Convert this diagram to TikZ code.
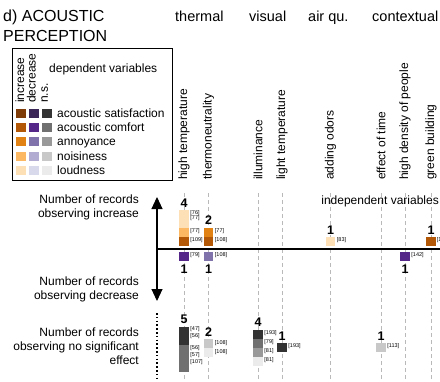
\documentclass[tikz,border=0pt]{standalone}
\usepackage{fontspec}
\setmainfont{Liberation Sans}
\usetikzlibrary{arrows.meta}
\definecolor{incSat}{HTML}{7F3B08}
\definecolor{incCom}{HTML}{B35806}
\definecolor{incAnn}{HTML}{E08214}
\definecolor{incNoi}{HTML}{FDB863}
\definecolor{incLou}{HTML}{FEE0B6}
\definecolor{decSat}{HTML}{3A2758}
\definecolor{decCom}{HTML}{542788}
\definecolor{decAnn}{HTML}{8073AC}
\definecolor{decNoi}{HTML}{B2ABD2}
\definecolor{decLou}{HTML}{D8DAEB}
\definecolor{nsSat}{HTML}{333333}
\definecolor{nsCom}{HTML}{707070}
\definecolor{nsAnn}{HTML}{999999}
\definecolor{nsNoi}{HTML}{C8C8C8}
\definecolor{nsLou}{HTML}{EBEBEB}
\newcommand{\barseg}[5]{\node[seg, fill=#5, minimum height=#4*9pt] (#1) at (#2, {#3+#4*4.5}) {};}
\tikzset{
  seg/.style={draw=none, minimum width=9.5pt, inner sep=0pt, outer sep=0pt},
  swatch/.style={draw=none, minimum width=10pt, minimum height=9pt, inner sep=0pt},
  reflab/.style={font=\fontsize{5.5}{5.2}\selectfont, inner sep=0pt, anchor=north west, align=left},
  cnt/.style={font=\fontsize{12.5}{12.5}\selectfont\bfseries, inner sep=0pt},
  ivar/.style={rotate=90, anchor=west, inner sep=0pt, font=\fontsize{12}{12}\selectfont},
  lrot/.style={rotate=90, anchor=base west, inner sep=0pt, font=\fontsize{12}{12}\selectfont},
  head/.style={anchor=base west, inner sep=0pt, font=\fontsize{14.5}{14.5}\selectfont},
  ttl/.style={anchor=base west, inner sep=0pt, font=\fontsize{16}{16}\selectfont},
  side/.style={anchor=east, align=right, inner sep=0pt, font=\fontsize{12}{14}\selectfont},
  leg/.style={anchor=base west, inner sep=0pt, font=\fontsize{12}{12}\selectfont},
  gridline/.style={gray!55, line width=0.6pt, dash pattern=on 4pt off 3pt},
}
\begin{document}
\begin{tikzpicture}[x=1pt,y=-1pt]
\useasboundingbox (0,0) rectangle (440,381);
\begin{scope}
\clip (0,0) rectangle (440,381);
% titles
\node[ttl] (t1) at (3,21.7) {d) ACOUSTIC};
\node[ttl] (t2) at (3,41.7) {PERCEPTION};
\node[head] (hth) at (175,21.7) {thermal};
\node[head] (hvi) at (249,21.7) {visual};
\node[head] (hai) at (308,21.7) {air qu.};
\node[head] (hco) at (372,21.7) {contextual};
% legend
\draw[line width=0.9pt] (12,48) rectangle (172,180);
\node[lrot] (lin) at (24,103) {increase};
\node[lrot] (lde) at (35.5,103) {decrease};
\node[lrot] (lns) at (48,103) {n.s.};
\node[leg] (ldv) at (49,72) {dependent variables};
\foreach \yy/\nm/\txt in {113/Sat/acoustic satisfaction,127/Com/acoustic comfort,141.5/Ann/annoyance,156/Noi/noisiness,170/Lou/loudness}{
  \node[swatch, fill=inc\nm] (si\nm) at (21,\yy) {};
  \node[swatch, fill=dec\nm] (sd\nm) at (34,\yy) {};
  \node[swatch, fill=ns\nm] (sn\nm) at (46.5,\yy) {};
  \node[leg] (lt\nm) at (57,\yy+4.3) {\txt};
}
% independent variable labels
\node[ivar] (v1) at (184,180) {high temperature};
\node[ivar] (v2) at (208.5,180) {thermoneutrality};
\node[ivar] (v3) at (258,180) {illuminance};
\node[ivar] (v4) at (282,180) {light temperature};
\node[ivar] (v5) at (330.5,180) {adding odors};
\node[ivar] (v6) at (381,180) {effect of time};
\node[ivar] (v7) at (405,180) {high density of people};
\node[ivar] (v8) at (431,180) {green building};
% grid lines
\foreach \xx/\nm in {184/1,208.5/2,258/3,282/4,330.5/5,381/6,405/7,431/8}{
  \coordinate (gt\nm) at (\xx,193);
  \coordinate (gb\nm) at (\xx,381);
  \draw[gridline] (gt\nm) -- (gb\nm);
}
% side labels
\node[side] (s1) at (139,207.5) {Number of records\\observing increase};
\node[side] (s2) at (139,289) {Number of records\\observing decrease};
\node[side] (s3) at (139,346.5) {Number of records\\observing no significant\\effect};
\node[anchor=east, inner sep=0pt, font=\fontsize{12}{12}\selectfont] (iv) at (439,201) {independent variables};
% axes
\coordinate (orig) at (157,249);
\coordinate (hend) at (440,249);
\coordinate (uptip) at (157,197);
\coordinate (dntip) at (157,301);
\coordinate (dtop) at (157,313);
\coordinate (dbot) at (157,381);
\draw[line width=1.4pt] (orig) -- (hend);
\draw[line width=1.1pt, {Triangle[width=11pt,length=12pt]}-{Triangle[width=11pt,length=12pt]}] (uptip) -- (dntip);
\draw[line width=1.6pt, dash pattern=on 1.6pt off 2.2pt] (dtop) -- (dbot);
% increase bars
\barseg{a1}{184}{210}{2}{incLou}
\barseg{a2}{184}{228}{1}{incNoi}
\barseg{a3}{184}{237}{1}{incCom}
\node[reflab] (ra1) at ([xshift=1.5pt]a1.north east) {[76]\\{}[77]};
\node[reflab] (ra2) at ([xshift=1.5pt]a2.north east) {[77]};
\node[reflab] (ra3) at ([xshift=1.5pt]a3.north east) {[109]};
\node[cnt] (ca) at (184,203) {4};
\barseg{b1}{208.5}{228}{1}{incAnn}
\barseg{b2}{208.5}{237}{1}{incCom}
\node[reflab] (rb1) at ([xshift=1.5pt]b1.north east) {[77]};
\node[reflab] (rb2) at ([xshift=1.5pt]b2.north east) {[108]};
\node[cnt] (cb) at (208.5,220) {2};
\barseg{c1}{330.5}{237}{1}{incLou}
\node[reflab] (rc1) at ([xshift=1.5pt]c1.north east) {[83]};
\node[cnt] (cc) at (330.5,230) {1};
\barseg{d1}{431}{237}{1}{incCom}
\node[reflab] (rd1) at ([xshift=1pt]d1.north east) {[1};
\node[cnt] (cd) at (431,230) {1};
% decrease bars
\barseg{e1}{184}{252}{1}{decCom}
\node[reflab] (re1) at ([xshift=1.5pt]e1.north east) {[79]};
\node[cnt] (ce) at (184,269.5) {1};
\barseg{f1}{208.5}{252}{1}{decAnn}
\node[reflab] (rf1) at ([xshift=1.5pt]f1.north east) {[108]};
\node[cnt] (cf) at (208.5,269.5) {1};
\barseg{g1}{405}{252}{1}{decCom}
\node[reflab] (rg1) at ([xshift=1.5pt]g1.north east) {[142]};
\node[cnt] (cg) at (405,269.5) {1};
% no significant effect bars
\barseg{h1}{184}{327}{2}{nsSat}
\barseg{h2}{184}{345}{3}{nsCom}
\node[reflab, font=\fontsize{5.5}{7.5}\selectfont] (rh1) at ([xshift=1.5pt,yshift=1pt]h1.north east) {[47]\\{}[56]};
\node[reflab, font=\fontsize{5.5}{7}\selectfont] (rh2) at ([xshift=1.5pt]h2.north east) {[56]\\{}[57]\\{}[107]};
\node[cnt] (ch) at (184,319) {5};
\barseg{i1}{208.5}{339}{1}{nsNoi}
\barseg{i2}{208.5}{348}{1}{nsLou}
\node[reflab] (ri1) at ([xshift=1.5pt,yshift=-1pt]i1.north east) {[108]};
\node[reflab] (ri2) at ([xshift=1.5pt,yshift=-1pt]i2.north east) {[108]};
\node[cnt] (ci) at (208.5,332) {2};
\barseg{j1}{258}{330}{1}{nsSat}
\barseg{j2}{258}{339}{1}{nsCom}
\barseg{j3}{258}{348}{1}{nsAnn}
\barseg{j4}{258}{357}{1}{nsLou}
\node[reflab] (rj1) at ([xshift=1.5pt]j1.north east) {[193]};
\node[reflab] (rj2) at ([xshift=1.5pt]j2.north east) {[79]};
\node[reflab] (rj3) at ([xshift=1.5pt]j3.north east) {[81]};
\node[reflab] (rj4) at ([xshift=1.5pt]j4.north east) {[81]};
\node[cnt] (cj) at (258,322) {4};
\barseg{k1}{282}{343}{1}{nsSat}
\node[reflab] (rk1) at ([xshift=1.5pt]k1.north east) {[193]};
\node[cnt] (ck) at (282,336) {1};
\barseg{m1}{381}{343}{1}{nsNoi}
\node[reflab] (rm1) at ([xshift=1.5pt]m1.north east) {[113]};
\node[cnt] (cm) at (381,336) {1};
\end{scope}
\end{tikzpicture}
\end{document}
